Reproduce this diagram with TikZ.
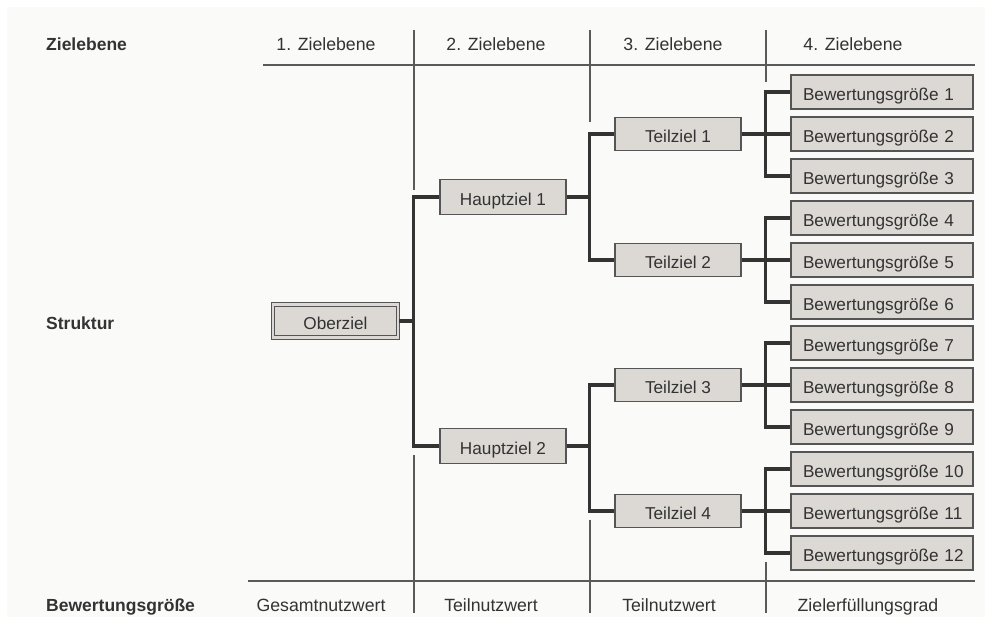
\documentclass[tikz,border=0pt]{standalone}
\usepackage{fontspec}
\setmainfont{Liberation Sans}
\definecolor{bgc}{HTML}{FAFAF8}
\definecolor{boxfill}{HTML}{DCD8D3}
\definecolor{boxline}{HTML}{555555}
\definecolor{txt}{HTML}{333333}
\definecolor{conn}{HTML}{333333}
\definecolor{thin}{HTML}{5A5A5A}
\begin{document}
\begin{tikzpicture}[x=1pt,y=-1pt,
  box/.style={draw=boxline,line width=1.2pt,fill=boxfill,inner sep=0pt,text=txt,
     font=\fontsize{17.2}{19}\selectfont,minimum height=34pt,text height=17pt,text depth=0pt},
  midbox/.style={box,minimum width=126pt},
  evalbox/.style={box,text width=158pt,align=left,inner xsep=12pt,minimum width=182pt},
  topbox/.style={box,minimum width=125pt,minimum height=33pt,double=boxfill,double distance=2.2pt,line width=1.1pt},
  connline/.style={draw=conn,line width=3.3pt,line join=miter},
  thinline/.style={draw=thin,line width=1.3pt},
  hdr/.style={text=txt,font=\fontsize{17.7}{20}\selectfont,inner sep=0pt,anchor=base},
  side/.style={text=txt,font=\fontsize{17.5}{20}\selectfont\bfseries,inner sep=0pt,anchor=base west}]
\useasboundingbox (0,0) rectangle (992,624);
\fill[white] (0,0) rectangle (992,624);
\fill[bgc] (7,7) rectangle (985,617);

% table lines
\draw[thinline] (263,65) -- (975,65);
\draw[thinline] (248,581) -- (975,581);
\draw[thinline] (414,30) -- (414,190);
\draw[thinline] (414,455) -- (414,613);
\draw[thinline] (590,30) -- (590,122);
\draw[thinline] (590,520) -- (590,613);
\draw[thinline] (766,30) -- (766,82);
\draw[thinline] (766,562) -- (766,613);

% labels
\node[side] (lz) at (46,50) {Zielebene};
\node[side] (ls) at (46,329) {Struktur};
\node[side] (lb) at (46,611) {Bewertungsgröße};
\node[hdr] (z1) at (326,50) {1. Zielebene};
\node[hdr] (z2) at (496,50) {2. Zielebene};
\node[hdr] (z3) at (673,50) {3. Zielebene};
\node[hdr] (z4) at (853,50) {4. Zielebene};
\node[hdr] (g1) at (321,611) {Gesamtnutzwert};
\node[hdr] (g2) at (491,611) {Teilnutzwert};
\node[hdr] (g3) at (669,611) {Teilnutzwert};
\node[hdr] (g4) at (868,611) {Zielerfüllungsgrad};

% nodes
\foreach \i/\y in {1/92,2/134,3/176,4/218,5/260,6/302,7/343,8/385,9/427,10/469,11/511,12/553}
  \node[evalbox] (b\i) at (882,\y) {\mbox{Bewertungsgröße \i}};
\node[midbox,minimum height=33pt] (t1) at (678,134) {Teilziel 1};
\node[midbox,minimum height=33pt] (t2) at (678,260) {Teilziel 2};
\node[midbox,minimum height=33pt] (t3) at (678,385) {Teilziel 3};
\node[midbox,minimum height=33pt] (t4) at (678,511) {Teilziel 4};
\node[midbox,minimum height=35pt] (h1) at (503,197) {Hauptziel 1};
\node[midbox,minimum height=35pt] (h2) at (503,446) {Hauptziel 2};
\node[topbox] (ob) at (335.5,321) {Oberziel};

% connectors
\draw[connline] (h1.west) -- ++(-26,0) |- (ob.east);
\draw[connline] (h2.west) -- ++(-26,0) |- (ob.east);
\draw[connline] (t1.west) -- ++(-25,0) |- (h1.east);
\draw[connline] (t2.west) -- ++(-25,0) |- (h1.east);
\draw[connline] (t3.west) -- ++(-25,0) |- (h2.east);
\draw[connline] (t4.west) -- ++(-25,0) |- (h2.east);
\draw[connline] (b1.west) -- ++(-25,0) |- (t1.east);
\draw[connline] (b2.west) -- (t1.east);
\draw[connline] (b3.west) -- ++(-25,0) |- (t1.east);
\draw[connline] (b4.west) -- ++(-25,0) |- (t2.east);
\draw[connline] (b5.west) -- (t2.east);
\draw[connline] (b6.west) -- ++(-25,0) |- (t2.east);
\draw[connline] (b7.west) -- ++(-25,0) |- (t3.east);
\draw[connline] (b8.west) -- (t3.east);
\draw[connline] (b9.west) -- ++(-25,0) |- (t3.east);
\draw[connline] (b10.west) -- ++(-25,0) |- (t4.east);
\draw[connline] (b11.west) -- (t4.east);
\draw[connline] (b12.west) -- ++(-25,0) |- (t4.east);
\end{tikzpicture}
\end{document}
